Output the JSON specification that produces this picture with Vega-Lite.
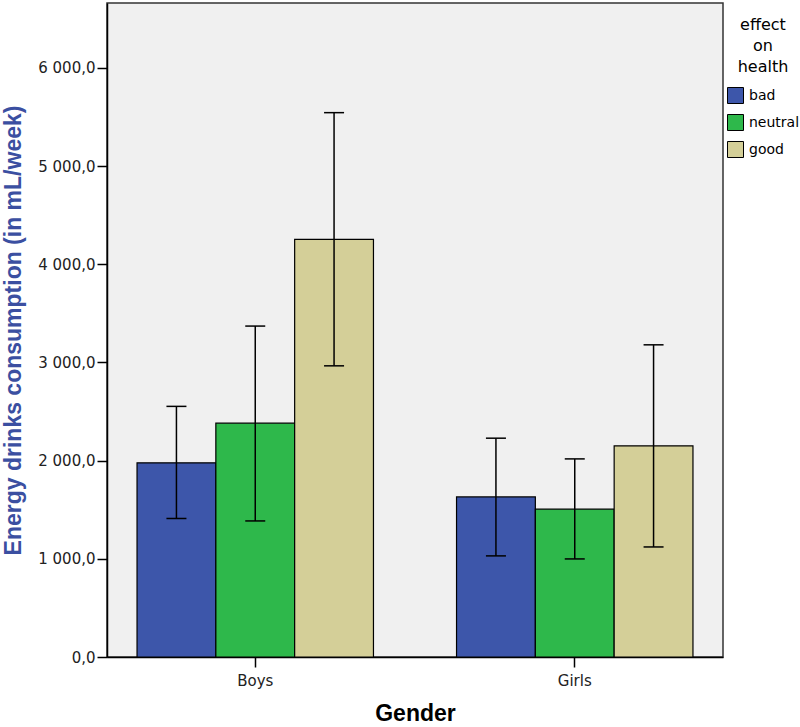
{
  "$schema": "https://vega.github.io/schema/vega-lite/v6.json",
  "width": 616,
  "height": 654,
  "autosize": {"type": "none"},
  "padding": {"left": 107, "top": 3, "right": 77, "bottom": 70},
  "background": "white",
  "data": {
    "values": [
      {"gender": "Boys", "effect": "bad", "mean": 1978, "lo": 1411, "hi": 2553},
      {"gender": "Boys", "effect": "neutral", "mean": 2382, "lo": 1386, "hi": 3371},
      {"gender": "Boys", "effect": "good", "mean": 4255, "lo": 2966, "hi": 5545},
      {"gender": "Girls", "effect": "bad", "mean": 1631, "lo": 1030, "hi": 2229},
      {"gender": "Girls", "effect": "neutral", "mean": 1506, "lo": 999, "hi": 2018},
      {"gender": "Girls", "effect": "good", "mean": 2151, "lo": 1121, "hi": 3180}
    ]
  },
  "encoding": {
    "x": {
      "field": "gender",
      "type": "nominal",
      "scale": {"paddingInner": 0.26, "paddingOuter": 0.094},
      "axis": {
        "title": "Gender",
        "labelAngle": 0,
        "labelFont": "DejaVu Sans",
        "labelFontSize": 15,
        "labelColor": "#222222",
        "labelPadding": 6,
        "tickSize": 10,
        "titleFont": "Liberation Sans",
        "titleFontSize": 23,
        "titleFontWeight": "bold",
        "titleColor": "black",
        "titlePadding": 14
      }
    },
    "xOffset": {
      "field": "effect",
      "type": "nominal",
      "sort": ["bad", "neutral", "good"],
      "scale": {"paddingInner": 0, "paddingOuter": 0}
    }
  },
  "layer": [
    {
      "mark": {"type": "bar", "stroke": "black", "strokeWidth": 1.2},
      "encoding": {
        "y": {
          "field": "mean",
          "type": "quantitative",
          "scale": {"domain": [0, 6662], "nice": false},
          "axis": {
            "title": "Energy drinks consumption (in mL/week)",
            "values": [0, 1000, 2000, 3000, 4000, 5000, 6000],
            "labelExpr": "replace(replace(format(datum.value, ',.1f'), ',', ' '), '.', ',')",
            "labelFont": "DejaVu Sans",
            "labelFontSize": 15,
            "labelColor": "#222222",
            "labelPadding": 2,
            "tickSize": 10,
            "titleFont": "Liberation Sans",
            "titleFontSize": 23,
            "titleFontWeight": "bold",
            "titleColor": "#3b4fa1",
            "titlePadding": 12
          }
        },
        "color": {
          "field": "effect",
          "type": "nominal",
          "sort": ["bad", "neutral", "good"],
          "scale": {"domain": ["bad", "neutral", "good"], "range": ["#3d56aa", "#2eb84b", "#d4cf98"]},
          "legend": {
            "orient": "none",
            "legendX": 620,
            "legendY": 14,
            "title": ["effect", "on", "health"],
            "titleAlign": "center",
            "titleAnchor": "middle",
            "titleFont": "DejaVu Sans",
            "titleFontSize": 16,
            "titleFontWeight": "normal",
            "titleColor": "black",
            "titleLineHeight": 21,
            "titlePadding": 12,
            "labelFont": "DejaVu Sans",
            "labelFontSize": 14,
            "labelColor": "black",
            "labelOffset": 5,
            "symbolType": "square",
            "symbolSize": 256,
            "symbolStrokeColor": "black",
            "symbolStrokeWidth": 1,
            "symbolOpacity": 1,
            "rowPadding": 6,
            "padding": 0
          }
        }
      }
    },
    {
      "mark": {"type": "rule", "color": "black", "strokeWidth": 1.5},
      "encoding": {
        "y": {"field": "lo", "type": "quantitative", "scale": {"domain": [0, 6662], "nice": false}, "title": "Energy drinks consumption (in mL/week)"},
        "y2": {"field": "hi"}
      }
    },
    {
      "mark": {"type": "tick", "color": "black", "thickness": 1.5, "size": 20, "opacity": 1},
      "encoding": {
        "y": {"field": "lo", "type": "quantitative", "scale": {"domain": [0, 6662], "nice": false}, "title": "Energy drinks consumption (in mL/week)"}
      }
    },
    {
      "mark": {"type": "tick", "color": "black", "thickness": 1.5, "size": 20, "opacity": 1},
      "encoding": {
        "y": {"field": "hi", "type": "quantitative", "scale": {"domain": [0, 6662], "nice": false}, "title": "Energy drinks consumption (in mL/week)"}
      }
    }
  ],
  "config": {
    "view": {"fill": "#f0f0f0", "stroke": "#333333", "strokeWidth": 1.5},
    "axis": {"grid": false, "domainColor": "black", "domainWidth": 1.5, "tickColor": "black", "tickWidth": 1.5}
  }
}
